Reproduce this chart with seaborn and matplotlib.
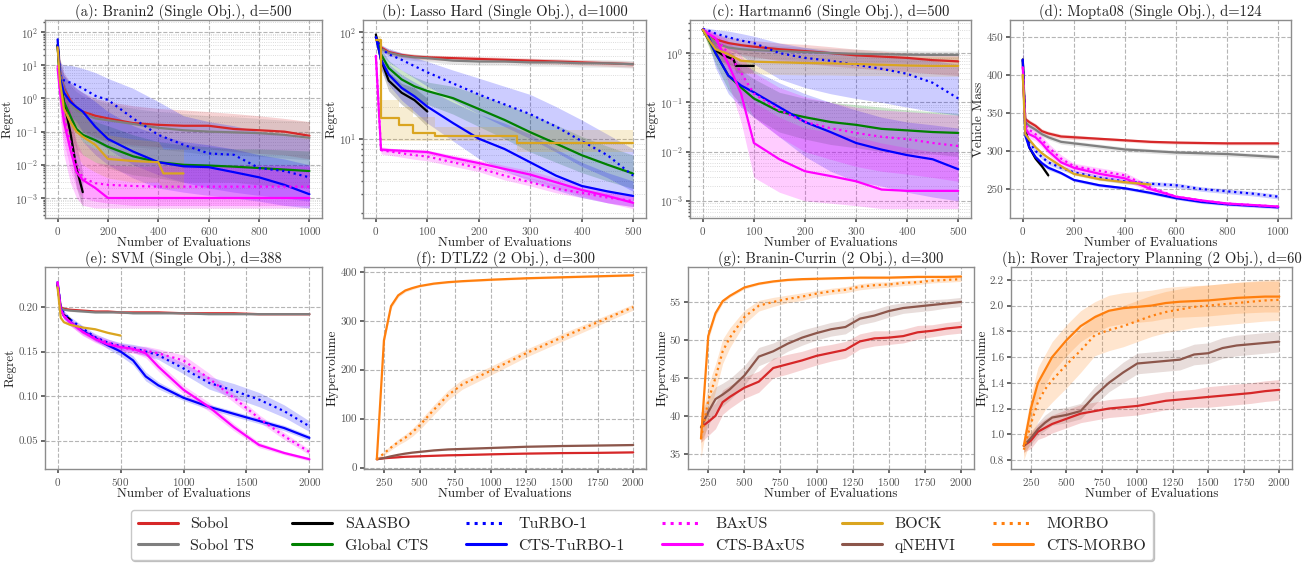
import numpy as np
import matplotlib
matplotlib.use("Agg")
import matplotlib.pyplot as plt
import seaborn as sns
from matplotlib.lines import Line2D
from matplotlib.ticker import NullFormatter, LogLocator, FormatStrFormatter

# ---- methods / styles ----
METHODS = ["Sobol", "Sobol TS", "SAASBO", "Global CTS", "TuRBO-1", "CTS-TuRBO-1",
           "BAxUS", "CTS-BAxUS", "BOCK", "qNEHVI", "MORBO", "CTS-MORBO"]
COLORS = {"Sobol": "#d62728", "Sobol TS": "#7f7f7f", "SAASBO": "black", "Global CTS": "green",
          "TuRBO-1": "blue", "CTS-TuRBO-1": "blue", "BAxUS": "magenta", "CTS-BAxUS": "magenta",
          "BOCK": "goldenrod", "qNEHVI": "#8c564b", "MORBO": "#ff7f0e", "CTS-MORBO": "#ff7f0e"}
DOTTED = ["TuRBO-1", "BAxUS", "MORBO"]

# ---- (a) Branin2, log regret ----
A_X = [0, 10, 25, 50, 75, 100, 150, 200, 300, 400, 500, 600, 700, 800, 900, 1000]
A_SOBOL = [40, 6, 2.0, 0.9, 0.5, 0.4, 0.3, 0.25, 0.18, 0.16, 0.15, 0.15, 0.12, 0.11, 0.10, 0.075]
A_SOBOL_LO = [20, 2, 0.6, 0.3, 0.15, 0.1, 0.07, 0.05, 0.04, 0.035, 0.03, 0.03, 0.025, 0.022, 0.02, 0.015]
A_SOBOL_HI = [80, 15, 6, 3, 2, 1.5, 1.0, 0.8, 0.6, 0.5, 0.45, 0.4, 0.35, 0.3, 0.25, 0.2]
A_SOBOLTS = [40, 6, 1.8, 0.7, 0.45, 0.35, 0.25, 0.22, 0.17, 0.13, 0.11, 0.10, 0.095, 0.09, 0.08, 0.065]
A_SOBOLTS_LO = [20, 2, 0.5, 0.2, 0.12, 0.08, 0.06, 0.05, 0.035, 0.03, 0.025, 0.02, 0.02, 0.018, 0.016, 0.014]
A_SOBOLTS_HI = [80, 15, 5, 2.5, 1.6, 1.2, 0.9, 0.7, 0.5, 0.4, 0.35, 0.3, 0.28, 0.25, 0.22, 0.2]
A_TURBO = [40, 5, 3.5, 3.0, 2.5, 2.0, 1.2, 0.9, 0.25, 0.08, 0.04, 0.022, 0.02, 0.008, 0.0065, 0.0042]
A_TURBO_LO = [20, 1, 0.5, 0.3, 0.2, 0.1, 0.05, 0.03, 0.01, 0.005, 0.003, 0.002, 0.0015, 0.0012, 0.001, 0.0008]
A_TURBO_HI = [80, 12, 10, 10, 9, 8, 6, 4, 2, 0.8, 0.3, 0.2, 0.15, 0.1, 0.08, 0.06]
A_CTSTURBO = [60, 4, 1.5, 0.8, 0.55, 0.4, 0.14, 0.06, 0.025, 0.012, 0.009, 0.0085, 0.006, 0.0042, 0.0025, 0.0013]
A_CTSTURBO_LO = [30, 1.5, 0.4, 0.2, 0.1, 0.05, 0.02, 0.01, 0.004, 0.002, 0.0015, 0.0012, 0.001, 0.0008, 0.0006, 0.0005]
A_CTSTURBO_HI = [90, 10, 5, 3, 2, 1.5, 0.8, 0.4, 0.15, 0.08, 0.05, 0.04, 0.03, 0.02, 0.015, 0.01]
A_GLOBAL = [40, 3, 0.8, 0.3, 0.12, 0.08, 0.055, 0.035, 0.018, 0.012, 0.01, 0.0095, 0.0088, 0.008, 0.0072, 0.0065]
A_GLOBAL_LO = [20, 1, 0.2, 0.08, 0.03, 0.02, 0.012, 0.008, 0.005, 0.004, 0.003, 0.003, 0.003, 0.0025, 0.0022, 0.002]
A_GLOBAL_HI = [80, 8, 3, 1, 0.5, 0.3, 0.2, 0.15, 0.08, 0.05, 0.04, 0.035, 0.03, 0.03, 0.028, 0.026]
A_BAXUS = [10, 2, 0.3, 0.05, 0.01, 0.004, 0.0028, 0.0025, 0.0023, 0.0022, 0.0022, 0.0022, 0.0022, 0.0022, 0.0022, 0.0022]
A_BAXUS_LO = [3, 0.5, 0.05, 0.008, 0.002, 0.001, 0.0008, 0.0007, 0.0006, 0.0006, 0.0006, 0.0006, 0.0006, 0.0006, 0.0006, 0.0006]
A_BAXUS_HI = [25, 6, 1.5, 0.3, 0.05, 0.02, 0.012, 0.01, 0.009, 0.009, 0.009, 0.009, 0.009, 0.009, 0.009, 0.009]
A_CTSBAXUS = [8, 1.5, 0.2, 0.03, 0.006, 0.0035, 0.002, 0.001, 0.001, 0.001, 0.001, 0.001, 0.001, 0.001, 0.001, 0.001]
A_CTSBAXUS_LO = [3, 0.3, 0.02, 0.003, 0.001, 0.0006, 0.0005, 0.0005, 0.0005, 0.0005, 0.0005, 0.0005, 0.0005, 0.0005, 0.0005, 0.0005]
A_CTSBAXUS_HI = [30, 8, 3, 0.5, 0.1, 0.05, 0.03, 0.02, 0.015, 0.012, 0.01, 0.01, 0.01, 0.01, 0.01, 0.01]
A_SAAS_X = [0, 10, 25, 50, 75, 100]
A_SAASBO = [40, 3, 0.8, 0.1, 0.008, 0.0015]
A_SAASBO_LO = [20, 1, 0.2, 0.03, 0.002, 0.0005]
A_SAASBO_HI = [80, 8, 2.5, 0.4, 0.04, 0.006]
A_BOCK_X = [0, 10, 25, 50, 75, 100, 150, 200, 300, 400, 420, 500]
A_BOCK = [35, 3, 0.5, 0.2, 0.1, 0.07, 0.04, 0.015, 0.013, 0.012, 0.0055, 0.0055]
A_BOCK_LO = [15, 1, 0.1, 0.05, 0.02, 0.01, 0.006, 0.004, 0.003, 0.003, 0.002, 0.002]
A_BOCK_HI = [70, 8, 2, 1, 0.5, 0.3, 0.15, 0.08, 0.06, 0.05, 0.03, 0.03]

# ---- (b) Lasso Hard, log regret ----
B_X = [0, 10, 25, 50, 75, 100, 150, 200, 250, 300, 350, 400, 450, 500]
B_SOBOL = [90, 72, 65, 61, 59, 58, 57, 56, 55, 54, 53, 52, 51, 50]
B_SOBOL_LO = [85, 68, 61, 58, 56, 55, 54, 53, 52, 51, 50, 49, 48, 47]
B_SOBOL_HI = [95, 76, 69, 64, 62, 61, 60, 59, 58, 57, 56, 55, 54, 53]
B_SOBOLTS = [90, 70, 64, 60, 58, 57, 54, 53, 53, 52, 52, 51, 51, 50]
B_SOBOLTS_LO = [85, 66, 60, 56, 54, 53, 50, 49, 49, 48, 48, 47, 47, 46]
B_SOBOLTS_HI = [95, 74, 68, 64, 62, 61, 58, 57, 57, 56, 56, 55, 55, 54]
B_TURBO = [90, 70, 62, 55, 48, 42, 33, 26, 21, 17, 13, 9.5, 7, 4.5]
B_TURBO_LO = [85, 62, 52, 44, 37, 31, 23, 17, 13, 10, 7.5, 5.5, 4.3, 3.2]
B_TURBO_HI = [95, 76, 70, 64, 58, 53, 44, 37, 31, 26, 20, 15, 11, 8]
B_CTSTURBO = [90, 55, 40, 30, 25, 20, 14, 10, 8, 6, 4.5, 3.6, 3.2, 2.9]
B_CTSTURBO_LO = [85, 45, 32, 23, 18, 14, 9.5, 6.5, 5, 4, 3.3, 2.8, 2.5, 2.3]
B_CTSTURBO_HI = [95, 64, 50, 40, 34, 29, 22, 17, 14, 11, 8, 6, 4.8, 4]
B_GLOBAL = [90, 62, 46, 36, 31, 28, 24, 19, 15, 11.5, 9, 7, 5.7, 4.7]
B_GLOBAL_LO = [85, 54, 38, 29, 24, 21, 17, 13, 10, 7.5, 6, 4.8, 4, 3.4]
B_GLOBAL_HI = [95, 70, 54, 44, 38, 34, 31, 26, 21, 17, 13.5, 10.5, 8.5, 7]
B_BAXUS = [60, 7.8, 7.6, 7.3, 7.0, 6.8, 6.0, 5.3, 4.5, 3.9, 3.4, 3.1, 2.8, 2.6]
B_BAXUS_LO = [55, 7.2, 7.0, 6.7, 6.4, 6.2, 5.5, 4.9, 4.1, 3.6, 3.1, 2.8, 2.5, 2.3]
B_BAXUS_HI = [65, 8.4, 8.2, 7.9, 7.6, 7.4, 6.5, 5.8, 4.9, 4.3, 3.7, 3.4, 3.1, 2.9]
B_CTSBAXUS = [60, 7.9, 7.8, 7.7, 7.6, 7.5, 6.6, 5.9, 5.2, 4.6, 3.9, 3.3, 2.9, 2.5]
B_CTSBAXUS_LO = [55, 7.6, 7.5, 7.4, 7.3, 7.2, 6.2, 5.5, 4.8, 4.2, 3.5, 2.9, 2.5, 2.2]
B_CTSBAXUS_HI = [65, 8.2, 8.1, 8.0, 7.9, 7.8, 7.0, 6.3, 5.6, 5.0, 4.3, 3.7, 3.3, 2.9]
B_SAAS_X = [0, 10, 25, 50, 75, 100]
B_SAASBO = [95, 55, 35, 27, 23, 18]
B_SAASBO_LO = [90, 45, 28, 21, 17, 13]
B_SAASBO_HI = [100, 65, 42, 33, 30, 24]
B_BOCK_X = [0, 10, 45, 72, 115, 275, 500]
B_BOCK = [85, 15.5, 13.5, 11.2, 10.7, 9.2, 9.2]
B_BOCK_LO = [75, 9.5, 9.5, 9.5, 9.5, 7.5, 6]
B_BOCK_HI = [92, 23, 20, 16, 13, 12, 12]

# ---- (c) Hartmann6, log regret ----
C_X = [0, 10, 25, 50, 75, 100, 150, 200, 250, 300, 350, 400, 450, 500]
C_SOBOL = [3.0, 2.4, 1.9, 1.6, 1.45, 1.35, 1.2, 1.1, 1.0, 0.9, 0.85, 0.8, 0.72, 0.68]
C_SOBOL_LO = [2.8, 2.0, 1.4, 1.1, 0.95, 0.85, 0.7, 0.62, 0.55, 0.5, 0.45, 0.42, 0.38, 0.35]
C_SOBOL_HI = [3.2, 2.8, 2.4, 2.1, 1.9, 1.8, 1.6, 1.5, 1.35, 1.2, 1.1, 1.0, 0.95, 0.9]
C_SOBOLTS = [3.0, 2.3, 1.6, 1.3, 1.2, 1.15, 1.1, 1.05, 1.0, 0.97, 0.95, 0.93, 0.92, 0.92]
C_SOBOLTS_LO = [2.8, 1.9, 1.2, 0.95, 0.85, 0.8, 0.75, 0.7, 0.68, 0.66, 0.64, 0.62, 0.62, 0.62]
C_SOBOLTS_HI = [3.2, 2.7, 2.1, 1.7, 1.6, 1.5, 1.4, 1.3, 1.25, 1.2, 1.15, 1.12, 1.1, 1.1]
C_TURBO = [3.1, 2.9, 2.5, 2.1, 1.8, 1.6, 1.0, 0.8, 0.7, 0.58, 0.48, 0.38, 0.25, 0.12]
C_TURBO_LO = [2.9, 2.5, 1.8, 1.2, 0.9, 0.6, 0.3, 0.2, 0.15, 0.12, 0.1, 0.08, 0.065, 0.055]
C_TURBO_HI = [3.3, 3.2, 3.0, 2.8, 2.5, 2.2, 1.6, 1.3, 1.1, 1.0, 0.9, 0.8, 0.7, 0.6]
C_CTSTURBO = [3.0, 2.3, 1.0, 0.35, 0.22, 0.16, 0.08, 0.04, 0.025, 0.015, 0.011, 0.0085, 0.007, 0.0044]
C_CTSTURBO_LO = [2.8, 1.8, 0.5, 0.15, 0.08, 0.05, 0.02, 0.008, 0.004, 0.0025, 0.002, 0.0015, 0.0012, 0.001]
C_CTSTURBO_HI = [3.2, 2.8, 1.8, 0.9, 0.6, 0.45, 0.25, 0.15, 0.1, 0.07, 0.05, 0.04, 0.035, 0.03]
C_GLOBAL = [3.0, 2.0, 1.0, 0.35, 0.2, 0.12, 0.065, 0.05, 0.04, 0.035, 0.029, 0.027, 0.025, 0.024]
C_GLOBAL_LO = [2.8, 1.5, 0.6, 0.18, 0.09, 0.05, 0.025, 0.018, 0.014, 0.012, 0.01, 0.009, 0.009, 0.008]
C_GLOBAL_HI = [3.2, 2.6, 1.6, 0.7, 0.45, 0.3, 0.16, 0.12, 0.1, 0.09, 0.08, 0.07, 0.065, 0.06]
C_BAXUS = [3.0, 2.5, 2.0, 1.0, 0.4, 0.15, 0.07, 0.04, 0.03, 0.024, 0.02, 0.018, 0.015, 0.013]
C_BAXUS_LO = [2.8, 2.0, 1.4, 0.5, 0.15, 0.05, 0.02, 0.01, 0.007, 0.005, 0.004, 0.0035, 0.003, 0.0025]
C_BAXUS_HI = [3.2, 3.0, 2.6, 1.8, 0.9, 0.4, 0.2, 0.13, 0.1, 0.08, 0.07, 0.065, 0.06, 0.055]
C_CTSBAXUS = [3.0, 2.5, 2.0, 0.6, 0.15, 0.015, 0.007, 0.004, 0.0032, 0.0025, 0.0017, 0.0016, 0.0016, 0.0016]
C_CTSBAXUS_LO = [2.8, 2.0, 1.3, 0.25, 0.04, 0.003, 0.0015, 0.001, 0.0009, 0.0008, 0.0007, 0.0007, 0.0007, 0.0007]
C_CTSBAXUS_HI = [3.2, 3.0, 2.6, 1.3, 0.5, 0.1, 0.05, 0.03, 0.025, 0.02, 0.015, 0.012, 0.01, 0.01]
C_BOCK = [3.0, 2.0, 1.2, 0.95, 0.7, 0.67, 0.65, 0.63, 0.62, 0.6, 0.58, 0.56, 0.55, 0.55]
C_BOCK_LO = [2.8, 1.5, 0.8, 0.55, 0.4, 0.38, 0.37, 0.36, 0.36, 0.35, 0.35, 0.34, 0.34, 0.34]
C_BOCK_HI = [3.2, 2.6, 1.8, 1.5, 1.2, 1.1, 1.0, 0.95, 0.92, 0.9, 0.88, 0.86, 0.85, 0.85]
C_SAAS_X = [0, 10, 25, 40, 60, 65, 100]
C_SAASBO = [3.0, 2.0, 1.15, 0.9, 0.75, 0.55, 0.55]
C_SAASBO_LO = [2.8, 1.6, 0.85, 0.65, 0.55, 0.4, 0.4]
C_SAASBO_HI = [3.2, 2.5, 1.5, 1.2, 1.0, 0.75, 0.75]

# ---- (d) Mopta08, vehicle mass (mean, std err) ----
D_X = [0, 10, 25, 50, 75, 100, 150, 200, 300, 400, 500, 600, 700, 800, 900, 1000]
D_SOBOL = [400, 342, 338, 333, 326, 323, 319, 318, 316, 314, 312, 311, 310.5, 310, 310, 310]
D_SOBOL_SE = [15, 3, 3, 3, 3, 3, 3, 3, 2, 2, 2, 2, 2, 2, 2, 2]
D_SOBOLTS = [420, 338, 333, 328, 322, 318, 312, 310, 306, 302, 300, 298, 297, 296, 294, 292]
D_SOBOLTS_SE = [15, 3, 3, 3, 3, 3, 3, 3, 3, 3, 3, 3, 3, 3, 3, 3]
D_TURBO = [420, 325, 312, 300, 292, 285, 278, 272, 265, 260, 257, 255, 250, 247, 244, 240]
D_TURBO_SE = [15, 4, 4, 3, 3, 3, 3, 3, 3, 3, 3, 3, 3, 3, 3, 3]
D_CTSTURBO = [420, 320, 305, 292, 284, 278, 271, 262, 255, 251, 245, 238, 233, 230, 228, 226]
D_CTSTURBO_SE = [15, 4, 3, 3, 3, 3, 2, 2, 2, 2, 2, 2, 2, 2, 2, 2]
D_BAXUS = [410, 335, 328, 322, 315, 305, 290, 280, 274, 268, 252, 240, 235, 231, 229, 227]
D_BAXUS_SE = [20, 5, 5, 5, 5, 5, 5, 4, 4, 4, 3, 2, 2, 2, 2, 2]
D_CTSBAXUS = [410, 330, 322, 318, 310, 300, 285, 278, 270, 264, 250, 240, 235, 231, 229, 227]
D_CTSBAXUS_SE = [20, 5, 5, 5, 5, 5, 5, 4, 4, 4, 3, 2, 2, 2, 2, 2]
D_SAAS_X = [0, 10, 25, 50, 75, 100]
D_SAASBO = [420, 330, 305, 290, 280, 268]
D_SAASBO_SE = [15, 4, 3, 3, 3, 3]
D_BOCK_X = [0, 10, 25, 50, 75, 100, 150, 200, 300, 400, 500]
D_BOCK = [400, 322, 315, 305, 297, 291, 280, 270, 263, 259, 256]
D_BOCK_SE = [10, 3, 3, 2, 2, 2, 2, 2, 2, 2, 2]

# ---- (e) SVM, regret ----
E_X = [0, 25, 50, 100, 200, 300, 400, 500, 600, 700, 800, 1000, 1200, 1400, 1600, 1800, 2000]
E_SOBOL = [0.224, 0.200, 0.198, 0.197, 0.196, 0.195, 0.195, 0.194, 0.194, 0.194, 0.194, 0.193, 0.193, 0.193, 0.192, 0.192, 0.192]
E_SOBOL_SE = [0.002, 0.001, 0.001, 0.001, 0.001, 0.001, 0.001, 0.001, 0.001, 0.001, 0.001, 0.001, 0.001, 0.001, 0.001, 0.001, 0.001]
E_SOBOLTS = [0.224, 0.199, 0.197, 0.196, 0.195, 0.194, 0.194, 0.194, 0.193, 0.193, 0.193, 0.193, 0.192, 0.192, 0.192, 0.192, 0.192]
E_SOBOLTS_SE = [0.002, 0.001, 0.001, 0.001, 0.001, 0.001, 0.001, 0.001, 0.001, 0.001, 0.001, 0.001, 0.001, 0.001, 0.001, 0.001, 0.001]
E_TURBO = [0.228, 0.200, 0.193, 0.186, 0.176, 0.166, 0.160, 0.156, 0.154, 0.150, 0.146, 0.131, 0.115, 0.106, 0.096, 0.083, 0.066]
E_TURBO_SE = [0.003, 0.003, 0.003, 0.003, 0.003, 0.004, 0.004, 0.004, 0.004, 0.005, 0.005, 0.006, 0.007, 0.008, 0.008, 0.007, 0.006]
E_CTSTURBO = [0.228, 0.198, 0.190, 0.183, 0.173, 0.165, 0.157, 0.150, 0.140, 0.122, 0.112, 0.098, 0.088, 0.080, 0.072, 0.064, 0.053]
E_CTSTURBO_SE = [0.003, 0.003, 0.003, 0.003, 0.003, 0.003, 0.004, 0.005, 0.005, 0.005, 0.004, 0.003, 0.003, 0.003, 0.003, 0.003, 0.003]
E_BAXUS = [0.228, 0.197, 0.190, 0.183, 0.172, 0.165, 0.160, 0.155, 0.152, 0.151, 0.148, 0.140, 0.120, 0.098, 0.075, 0.055, 0.037]
E_BAXUS_SE = [0.003, 0.004, 0.004, 0.004, 0.004, 0.004, 0.004, 0.004, 0.004, 0.005, 0.005, 0.006, 0.006, 0.005, 0.004, 0.004, 0.003]
E_CTSBAXUS = [0.228, 0.197, 0.190, 0.183, 0.172, 0.164, 0.158, 0.155, 0.153, 0.148, 0.133, 0.107, 0.088, 0.065, 0.045, 0.036, 0.029]
E_CTSBAXUS_SE = [0.003, 0.004, 0.004, 0.004, 0.004, 0.004, 0.004, 0.004, 0.004, 0.005, 0.005, 0.005, 0.005, 0.004, 0.003, 0.002, 0.002]
E_SAAS_X = [0, 25, 50, 100]
E_SAASBO = [0.226, 0.196, 0.191, 0.186]
E_SAASBO_SE = [0.002, 0.002, 0.002, 0.002]
E_BOCK_X = [0, 25, 50, 100, 200, 300, 400, 500]
E_BOCK = [0.222, 0.188, 0.183, 0.180, 0.177, 0.175, 0.171, 0.168]
E_BOCK_SE = [0.002, 0.001, 0.001, 0.001, 0.001, 0.001, 0.001, 0.001]

# ---- (f) DTLZ2, hypervolume ----
F_X = [200, 250, 300, 350, 400, 450, 500, 600, 700, 800, 1000, 1250, 1500, 1750, 2000]
F_SOBOL = [17, 19, 20, 21, 22, 22.5, 23, 24, 25, 25.5, 27, 28.5, 29.5, 30, 31]
F_SOBOL_SE = [1, 1, 1, 1, 1, 1, 1, 1, 1, 1, 1, 1, 1, 1, 1]
F_QNEHVI = [17, 19.5, 23, 26, 28.5, 30.5, 32, 35, 37, 38, 40, 42.5, 44, 45, 46]
F_QNEHVI_SE = [1, 1.5, 1.5, 1.5, 1.5, 1.5, 1.5, 1.5, 1.5, 1.5, 1.5, 1.5, 1.5, 1.5, 1.5]
F_MORBO = [17, 29, 41, 52, 61, 72, 86, 118, 148, 170, 198, 234, 266, 297, 328]
F_MORBO_SE = [2, 4, 5, 6, 7, 8, 9, 10, 10, 10, 9, 8, 8, 7, 6]
F_CTSMORBO = [17, 260, 330, 352, 362, 367, 371, 376, 379, 381, 384, 387, 389, 391, 393]
F_CTSMORBO_SE = [2, 8, 5, 4, 3, 3, 2, 2, 2, 2, 2, 2, 2, 2, 2]

# ---- (g) Branin-Currin, hypervolume ----
G_X = [200, 250, 300, 350, 400, 500, 600, 700, 800, 900, 1000, 1100, 1200, 1300, 1400, 1500, 1600, 1700, 1800, 1900, 2000]
G_SOBOL = [38.5, 39.2, 40, 41.8, 42.5, 43.7, 44.5, 46.3, 46.8, 47.3, 47.9, 48.3, 48.7, 49.8, 50.2, 50.3, 50.5, 51.0, 51.2, 51.5, 51.7]
G_SOBOL_SE = [2.0, 1.8, 1.7, 1.6, 1.5, 1.4, 1.4, 1.3, 1.3, 1.2, 1.2, 1.1, 1.1, 1.0, 1.0, 0.9, 0.9, 0.9, 0.8, 0.8, 0.8]
G_QNEHVI = [38.5, 40.5, 42.2, 42.8, 43.5, 45.3, 47.8, 48.5, 49.5, 50.3, 50.9, 51.4, 51.7, 52.8, 53.2, 53.8, 54.2, 54.4, 54.6, 54.8, 55.0]
G_QNEHVI_SE = [2.0, 1.8, 1.6, 1.5, 1.4, 1.3, 1.2, 1.1, 1.0, 1.0, 0.9, 0.9, 0.9, 0.8, 0.8, 0.8, 0.7, 0.7, 0.7, 0.6, 0.6]
G_MORBO = [37, 42, 45, 48.5, 50.3, 53, 54.5, 55.0, 55.4, 55.7, 56.1, 56.4, 56.6, 57.0, 57.2, 57.3, 57.5, 57.6, 57.8, 57.9, 58.0]
G_MORBO_SE = [2.5, 2.0, 1.8, 1.6, 1.3, 0.9, 0.7, 0.6, 0.5, 0.5, 0.4, 0.4, 0.4, 0.4, 0.4, 0.35, 0.35, 0.3, 0.3, 0.3, 0.3]
G_CTSMORBO = [37, 50.5, 53.5, 55.1, 55.8, 56.9, 57.4, 57.7, 57.9, 58.0, 58.05, 58.1, 58.15, 58.2, 58.2, 58.2, 58.25, 58.3, 58.3, 58.3, 58.35]
G_CTSMORBO_SE = [1.5, 0.6, 0.4, 0.3, 0.2, 0.2, 0.15, 0.15, 0.15, 0.15, 0.15, 0.15, 0.15, 0.15, 0.15, 0.15, 0.15, 0.15, 0.15, 0.15, 0.15]

# ---- (h) Rover trajectory planning, hypervolume ----
H_X = [200, 250, 300, 350, 400, 500, 600, 700, 800, 900, 1000, 1100, 1200, 1300, 1400, 1500, 1600, 1700, 1800, 1900, 2000]
H_SOBOL = [0.91, 0.95, 1.02, 1.05, 1.08, 1.12, 1.16, 1.18, 1.20, 1.21, 1.22, 1.24, 1.26, 1.27, 1.28, 1.29, 1.30, 1.31, 1.32, 1.335, 1.345]
H_SOBOL_SE = [0.05, 0.06, 0.06, 0.07, 0.07, 0.07, 0.07, 0.07, 0.07, 0.07, 0.07, 0.07, 0.07, 0.07, 0.07, 0.08, 0.08, 0.08, 0.08, 0.08, 0.08]
H_QNEHVI = [0.91, 0.97, 1.04, 1.09, 1.13, 1.15, 1.18, 1.30, 1.40, 1.48, 1.55, 1.56, 1.57, 1.58, 1.62, 1.63, 1.67, 1.69, 1.70, 1.71, 1.72]
H_QNEHVI_SE = [0.05, 0.05, 0.05, 0.06, 0.06, 0.06, 0.06, 0.07, 0.07, 0.08, 0.08, 0.08, 0.08, 0.08, 0.08, 0.08, 0.08, 0.08, 0.08, 0.08, 0.08]
H_MORBO = [0.88, 1.08, 1.25, 1.35, 1.42, 1.54, 1.65, 1.77, 1.81, 1.84, 1.88, 1.92, 1.95, 1.97, 1.99, 2.0, 2.01, 2.02, 2.03, 2.04, 2.045]
H_MORBO_SE = [0.08, 0.12, 0.15, 0.16, 0.17, 0.18, 0.17, 0.16, 0.16, 0.16, 0.16, 0.16, 0.16, 0.16, 0.16, 0.16, 0.16, 0.16, 0.16, 0.16, 0.16]
H_CTSMORBO = [0.91, 1.2, 1.40, 1.50, 1.60, 1.73, 1.84, 1.91, 1.96, 1.98, 1.99, 2.00, 2.02, 2.03, 2.035, 2.04, 2.05, 2.06, 2.065, 2.07, 2.07]
H_CTSMORBO_SE = [0.08, 0.10, 0.12, 0.12, 0.12, 0.12, 0.12, 0.12, 0.12, 0.12, 0.12, 0.12, 0.12, 0.12, 0.12, 0.12, 0.12, 0.12, 0.12, 0.12, 0.12]


def se_band(x, y, se):
    y, se = np.array(y), np.array(se)
    return (x, y, y - se, y + se)


# panel specs: method -> (x, mean, lo, hi)
panels = [
    dict(title="(a): Branin2 (Single Obj.), d=500", ylabel="Regret", log=True,
         ylim=(2.5e-4, 2.3e2), xlim=(-50, 1050), xticks=[0, 200, 400, 600, 800, 1000],
         curves={"Sobol": (A_X, A_SOBOL, A_SOBOL_LO, A_SOBOL_HI),
                 "Sobol TS": (A_X, A_SOBOLTS, A_SOBOLTS_LO, A_SOBOLTS_HI),
                 "SAASBO": (A_SAAS_X, A_SAASBO, A_SAASBO_LO, A_SAASBO_HI),
                 "Global CTS": (A_X, A_GLOBAL, A_GLOBAL_LO, A_GLOBAL_HI),
                 "TuRBO-1": (A_X, A_TURBO, A_TURBO_LO, A_TURBO_HI),
                 "CTS-TuRBO-1": (A_X, A_CTSTURBO, A_CTSTURBO_LO, A_CTSTURBO_HI),
                 "BAxUS": (A_X, A_BAXUS, A_BAXUS_LO, A_BAXUS_HI),
                 "CTS-BAxUS": (A_X, A_CTSBAXUS, A_CTSBAXUS_LO, A_CTSBAXUS_HI),
                 "BOCK": (A_BOCK_X, A_BOCK, A_BOCK_LO, A_BOCK_HI)}),
    dict(title="(b): Lasso Hard (Single Obj.), d=1000", ylabel="Regret", log=True,
         ylim=(1.8, 130), xlim=(-25, 525), xticks=[0, 100, 200, 300, 400, 500],
         curves={"Sobol": (B_X, B_SOBOL, B_SOBOL_LO, B_SOBOL_HI),
                 "Sobol TS": (B_X, B_SOBOLTS, B_SOBOLTS_LO, B_SOBOLTS_HI),
                 "SAASBO": (B_SAAS_X, B_SAASBO, B_SAASBO_LO, B_SAASBO_HI),
                 "Global CTS": (B_X, B_GLOBAL, B_GLOBAL_LO, B_GLOBAL_HI),
                 "TuRBO-1": (B_X, B_TURBO, B_TURBO_LO, B_TURBO_HI),
                 "CTS-TuRBO-1": (B_X, B_CTSTURBO, B_CTSTURBO_LO, B_CTSTURBO_HI),
                 "BAxUS": (B_X, B_BAXUS, B_BAXUS_LO, B_BAXUS_HI),
                 "CTS-BAxUS": (B_X, B_CTSBAXUS, B_CTSBAXUS_LO, B_CTSBAXUS_HI),
                 "BOCK": (B_BOCK_X, B_BOCK, B_BOCK_LO, B_BOCK_HI)}),
    dict(title="(c): Hartmann6 (Single Obj.), d=500", ylabel="Regret", log=True,
         ylim=(4.5e-4, 4.7), xlim=(-25, 525), xticks=[0, 100, 200, 300, 400, 500],
         curves={"Sobol": (C_X, C_SOBOL, C_SOBOL_LO, C_SOBOL_HI),
                 "Sobol TS": (C_X, C_SOBOLTS, C_SOBOLTS_LO, C_SOBOLTS_HI),
                 "SAASBO": (C_SAAS_X, C_SAASBO, C_SAASBO_LO, C_SAASBO_HI),
                 "Global CTS": (C_X, C_GLOBAL, C_GLOBAL_LO, C_GLOBAL_HI),
                 "TuRBO-1": (C_X, C_TURBO, C_TURBO_LO, C_TURBO_HI),
                 "CTS-TuRBO-1": (C_X, C_CTSTURBO, C_CTSTURBO_LO, C_CTSTURBO_HI),
                 "BAxUS": (C_X, C_BAXUS, C_BAXUS_LO, C_BAXUS_HI),
                 "CTS-BAxUS": (C_X, C_CTSBAXUS, C_CTSBAXUS_LO, C_CTSBAXUS_HI),
                 "BOCK": (C_X, C_BOCK, C_BOCK_LO, C_BOCK_HI)}),
    dict(title="(d): Mopta08 (Single Obj.), d=124", ylabel="Vehicle Mass", log=False,
         ylim=(212, 472), xlim=(-50, 1050), xticks=[0, 200, 400, 600, 800, 1000],
         yticks=[250, 300, 350, 400, 450], yfmt="%d",
         curves={"Sobol": se_band(D_X, D_SOBOL, D_SOBOL_SE),
                 "Sobol TS": se_band(D_X, D_SOBOLTS, D_SOBOLTS_SE),
                 "SAASBO": se_band(D_SAAS_X, D_SAASBO, D_SAASBO_SE),
                 "TuRBO-1": se_band(D_X, D_TURBO, D_TURBO_SE),
                 "CTS-TuRBO-1": se_band(D_X, D_CTSTURBO, D_CTSTURBO_SE),
                 "BAxUS": se_band(D_X, D_BAXUS, D_BAXUS_SE),
                 "CTS-BAxUS": se_band(D_X, D_CTSBAXUS, D_CTSBAXUS_SE),
                 "BOCK": se_band(D_BOCK_X, D_BOCK, D_BOCK_SE)}),
    dict(title="(e): SVM (Single Obj.), d=388", ylabel="Regret", log=False,
         ylim=(0.018, 0.245), xlim=(-100, 2100), xticks=[0, 500, 1000, 1500, 2000],
         yticks=[0.05, 0.10, 0.15, 0.20], yfmt="%.2f",
         curves={"Sobol": se_band(E_X, E_SOBOL, E_SOBOL_SE),
                 "Sobol TS": se_band(E_X, E_SOBOLTS, E_SOBOLTS_SE),
                 "SAASBO": se_band(E_SAAS_X, E_SAASBO, E_SAASBO_SE),
                 "TuRBO-1": se_band(E_X, E_TURBO, E_TURBO_SE),
                 "CTS-TuRBO-1": se_band(E_X, E_CTSTURBO, E_CTSTURBO_SE),
                 "BAxUS": se_band(E_X, E_BAXUS, E_BAXUS_SE),
                 "CTS-BAxUS": se_band(E_X, E_CTSBAXUS, E_CTSBAXUS_SE),
                 "BOCK": se_band(E_BOCK_X, E_BOCK, E_BOCK_SE)}),
    dict(title="(f): DTLZ2 (2 Obj.), d=300", ylabel="Hypervolume", log=False,
         ylim=(-3, 410), xlim=(110, 2090), xticks=[250, 500, 750, 1000, 1250, 1500, 1750, 2000],
         yticks=[0, 100, 200, 300, 400], yfmt="%d",
         curves={"Sobol": se_band(F_X, F_SOBOL, F_SOBOL_SE),
                 "qNEHVI": se_band(F_X, F_QNEHVI, F_QNEHVI_SE),
                 "MORBO": se_band(F_X, F_MORBO, F_MORBO_SE),
                 "CTS-MORBO": se_band(F_X, F_CTSMORBO, F_CTSMORBO_SE)}),
    dict(title="(g): Branin-Currin (2 Obj.), d=300", ylabel="Hypervolume", log=False,
         ylim=(33.0, 59.6), xlim=(110, 2090), xticks=[250, 500, 750, 1000, 1250, 1500, 1750, 2000],
         yticks=[35, 40, 45, 50, 55], yfmt="%d",
         curves={"Sobol": se_band(G_X, G_SOBOL, G_SOBOL_SE),
                 "qNEHVI": se_band(G_X, G_QNEHVI, G_QNEHVI_SE),
                 "MORBO": se_band(G_X, G_MORBO, G_MORBO_SE),
                 "CTS-MORBO": se_band(G_X, G_CTSMORBO, G_CTSMORBO_SE)}),
    dict(title="(h): Rover Trajectory Planning (2 Obj.), d=60", ylabel="Hypervolume", log=False,
         ylim=(0.73, 2.30), xlim=(110, 2090), xticks=[250, 500, 750, 1000, 1250, 1500, 1750, 2000],
         yticks=[0.8, 1.0, 1.2, 1.4, 1.6, 1.8, 2.0, 2.2], yfmt="%.1f",
         curves={"Sobol": se_band(H_X, H_SOBOL, H_SOBOL_SE),
                 "qNEHVI": se_band(H_X, H_QNEHVI, H_QNEHVI_SE),
                 "MORBO": se_band(H_X, H_MORBO, H_MORBO_SE),
                 "CTS-MORBO": se_band(H_X, H_CTSMORBO, H_CTSMORBO_SE)}),
]

# axes boxes in pixels: (left, right, top, bottom)
BOXES = [(45, 322, 20, 218), (363, 646, 20, 218), (690, 971, 20, 218), (1010, 1291, 20, 218),
         (45, 322, 267, 469), (364, 646, 267, 469), (688, 974, 267, 469), (1011, 1292, 267, 469)]
W, H = 1307, 569

sns.set_theme(style="whitegrid", rc={
    "axes.edgecolor": "#8c8c8c", "axes.linewidth": 1.0,
    "grid.color": "#b5b5b5", "grid.linestyle": "--", "grid.linewidth": 0.8,
    "xtick.bottom": True, "ytick.left": True,
    "xtick.major.size": 3, "ytick.major.size": 3,
    "xtick.minor.size": 1.5, "ytick.minor.size": 1.5,
    "xtick.color": "#555555", "ytick.color": "#555555",
})
plt.rcParams["font.family"] = ["cmr10", "DejaVu Serif"]
plt.rcParams["mathtext.fontset"] = "cm"
plt.rcParams["axes.formatter.use_mathtext"] = True

fig = plt.figure(figsize=(W / 100, H / 100), dpi=100)

for p, (l, r, t, b) in zip(panels, BOXES):
    ax = fig.add_axes([l / W, 1 - b / H, (r - l) / W, (b - t) / H])
    for m in METHODS:
        if m not in p["curves"]:
            continue
        x, y, lo, hi = p["curves"][m]
        c = COLORS[m]
        ls = ":" if m in DOTTED else "-"
        step = "steps-post" if (m == "BOCK" and p["title"].startswith("(b)")) else "default"
        ax.fill_between(x, lo, hi, color=c, alpha=0.2, lw=0, step="post" if step != "default" else None)
        sns.lineplot(x=x, y=y, ax=ax, color=c, linestyle=ls, linewidth=1.6,
                     drawstyle=step, errorbar=None, legend=False)
    if p["log"]:
        ax.set_yscale("log")
        ax.yaxis.set_major_locator(LogLocator(base=10, numticks=20))
        ax.yaxis.set_minor_locator(LogLocator(base=10, subs=np.arange(2, 10), numticks=50))
        ax.yaxis.set_minor_formatter(NullFormatter())
        ax.grid(True, which="minor", axis="y", linestyle=":", color="#d0d0d0", linewidth=0.6)
    else:
        ax.set_yticks(p["yticks"])
        ax.yaxis.set_major_formatter(FormatStrFormatter(p["yfmt"]))
    ax.set_xticks(p["xticks"])
    ax.set_xlim(*p["xlim"])
    ax.set_ylim(*p["ylim"])
    ax.tick_params(labelsize=8, pad=2)
    ax.set_title(p["title"], fontsize=10.5, pad=3, color="#222222")
    ax.set_xlabel("Number of Evaluations", fontsize=9.5, labelpad=0, color="#222222")
    ax.set_ylabel(p["ylabel"], fontsize=9.5, labelpad=1, color="#222222")

handles = [Line2D([], [], color=COLORS[m], linestyle=":" if m in DOTTED else "-", linewidth=2.2)
           for m in METHODS]
fig.legend(handles, METHODS, loc="center", bbox_to_anchor=(0.491, 0.06), ncol=6,
           fontsize=11.5, handlelength=2.5, handletextpad=0.8, columnspacing=2.35,
           labelspacing=0.45, frameon=True, edgecolor="#c8c8c8", fancybox=True,
           borderpad=0.45, shadow={"ox": 1.2, "oy": -1.2, "color": "#999999", "alpha": 0.5})

fig.savefig("out.png", dpi=100)
